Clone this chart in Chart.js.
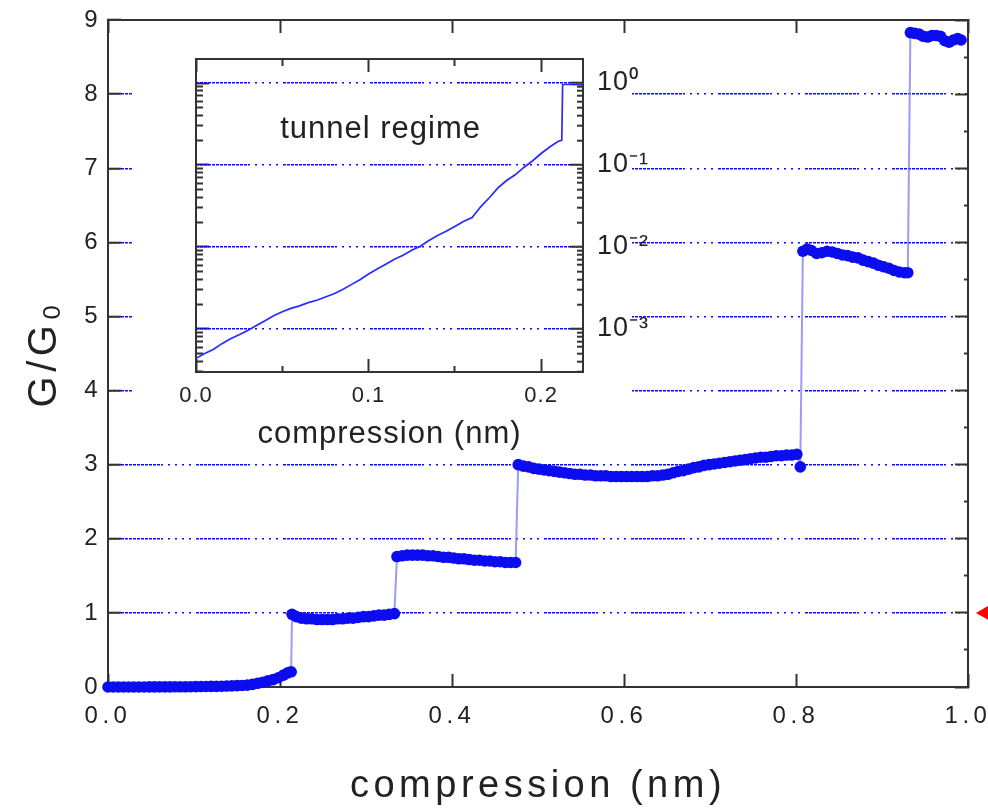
<!DOCTYPE html>
<html>
<head>
<meta charset="utf-8">
<script src="https://cdn.jsdelivr.net/npm/chart.js@4.4.0/dist/chart.umd.min.js"></script>
<style>
html,body{margin:0;padding:0;background:#fff;}
#wrap{position:relative;width:988px;height:809px;overflow:hidden;}
#main{position:absolute;left:0;top:0;}
#inset{position:absolute;left:132px;top:40px;}
</style>
</head>
<body>
<div id="wrap">
<canvas id="main" width="988" height="809"></canvas>
<canvas id="inset" width="530" height="415"></canvas>
</div>
<script>
// ---------------- DATA ----------------
// main panel: conductance plateaus (compression in nm, G in units of G0)
const plateau0X = [0.000,0.006,0.012,0.018,0.024,0.030,0.036,0.042,0.048,0.054,0.060,0.066,0.072,0.078,0.084,0.090,0.096,0.102,0.108,0.114,0.120,0.126,0.132,0.138,0.144,0.150,0.156,0.162,0.168,0.174,0.180,0.186,0.192,0.198,0.204,0.209,0.213];
const plateau0G = [0.000,0.001,0.001,0.001,0.001,0.001,0.001,0.001,0.002,0.002,0.002,0.002,0.002,0.003,0.003,0.003,0.004,0.005,0.006,0.007,0.008,0.009,0.011,0.013,0.015,0.018,0.021,0.025,0.036,0.050,0.065,0.082,0.100,0.125,0.160,0.190,0.205];
const plateau1X = [0.214,0.219,0.225,0.231,0.237,0.243,0.249,0.255,0.261,0.267,0.273,0.279,0.285,0.291,0.297,0.303,0.309,0.315,0.321,0.327,0.333];
const plateau1G = [0.98,0.95,0.93,0.92,0.92,0.91,0.91,0.91,0.91,0.92,0.92,0.93,0.93,0.94,0.95,0.95,0.96,0.97,0.97,0.98,0.99];
const plateau2X = [0.336,0.342,0.348,0.354,0.360,0.366,0.372,0.378,0.384,0.390,0.396,0.402,0.408,0.414,0.420,0.426,0.432,0.438,0.444,0.450,0.456,0.462,0.468,0.474];
const plateau2G = [1.76,1.77,1.78,1.78,1.78,1.78,1.77,1.77,1.76,1.75,1.75,1.74,1.73,1.73,1.72,1.71,1.71,1.70,1.70,1.69,1.69,1.68,1.68,1.68];
const plateau3X = [0.477,0.483,0.489,0.495,0.501,0.507,0.513,0.519,0.525,0.531,0.537,0.543,0.549,0.555,0.561,0.567,0.573,0.579,0.585,0.591,0.597,0.603,0.609,0.615,0.621,0.627,0.633,0.639,0.645,0.651,0.657,0.663,0.669,0.675,0.681,0.687,0.693,0.699,0.705,0.711,0.717,0.723,0.729,0.735,0.741,0.747,0.753,0.759,0.765,0.771,0.777,0.783,0.789,0.795,0.801,0.805];
const plateau3G = [3.00,2.98,2.97,2.95,2.94,2.93,2.92,2.91,2.90,2.89,2.88,2.87,2.87,2.86,2.86,2.85,2.85,2.85,2.84,2.84,2.84,2.84,2.84,2.84,2.84,2.84,2.85,2.85,2.86,2.87,2.89,2.91,2.92,2.94,2.96,2.97,2.99,3.00,3.01,3.02,3.03,3.04,3.05,3.06,3.07,3.08,3.09,3.10,3.10,3.11,3.12,3.12,3.13,3.13,3.14,2.97];
const plateau4X = [0.808,0.813,0.818,0.824,0.830,0.836,0.842,0.848,0.854,0.860,0.866,0.872,0.878,0.884,0.890,0.896,0.902,0.908,0.914,0.920,0.926,0.930];
const plateau4G = [5.88,5.91,5.89,5.85,5.86,5.88,5.87,5.85,5.83,5.82,5.80,5.79,5.76,5.74,5.72,5.69,5.67,5.65,5.62,5.60,5.59,5.59];
const plateau5X = [0.933,0.938,0.943,0.948,0.953,0.958,0.963,0.968,0.973,0.978,0.983,0.988,0.992];
const plateau5G = [8.83,8.82,8.81,8.78,8.77,8.79,8.79,8.78,8.72,8.70,8.73,8.75,8.73];

// red marker at G = 1 G0 (right of the frame)
const markerX = [1.0186];
const markerG = [1];

// tick labels
const mainXTickLabels = ['0.0','0.2','0.4','0.6','0.8','1.0'];
const mainYTickLabels = ['0','1','2','3','4','5','6','7','8','9'];

// inset: tunnel regime on log scale
const insetX = [0.000,0.005,0.010,0.015,0.020,0.025,0.030,0.035,0.040,0.045,0.050,0.055,0.060,0.065,0.070,0.075,0.080,0.085,0.090,0.095,0.100,0.105,0.110,0.115,0.120,0.125,0.130,0.135,0.140,0.145,0.150,0.155,0.160,0.165,0.170,0.175,0.180,0.185,0.190,0.195,0.200,0.205,0.210,0.212,0.2125,0.216,0.224];
const insetG = [4.37e-4,5.01e-4,5.62e-4,6.61e-4,7.59e-4,8.51e-4,9.55e-4,1.10e-3,1.26e-3,1.45e-3,1.62e-3,1.78e-3,1.91e-3,2.09e-3,2.24e-3,2.45e-3,2.69e-3,3.02e-3,3.47e-3,3.98e-3,4.68e-3,5.37e-3,6.17e-3,7.08e-3,7.94e-3,9.12e-3,1.02e-2,1.20e-2,1.38e-2,1.55e-2,1.78e-2,2.04e-2,2.29e-2,3.09e-2,3.98e-2,5.25e-2,6.46e-2,7.59e-2,9.33e-2,0.112,0.138,0.166,0.195,0.200,0.96,0.96,0.95];
const insetXTickLabels = ['0.0','','0.1','','0.2'];
const insetDecades = [1e-3,1e-2,1e-1,1];
const insetDecadeLabels = ['10\u207B\u00B3','10\u207B\u00B2','10\u207B\u00B9','10\u2070'];
const insetYMin = 2.98e-4, insetYMax = 1.965;
const tunnelLabel = {text:'tunnel regime', x:0.107, y:0.274};

// ---------------- STYLE ----------------
const FONT = '"Liberation Sans", Arial, Helvetica, sans-serif';
const INK = '#222222';
const AXIS = '#333333';
const GRID_BLUE = '#0a0aff';
const GRID_DASH = [3,1,3,1,3,1,3,1,3,1,3,1,3,1,3,1,3,1,3,1,3,1,3,1,3,1,2,5,2,5,2,5,2,5,2,5];
const NONE = 'rgba(0,0,0,0)';

function toPoints(xs, ys){ return xs.map((x,i)=>({x:x, y:ys[i]})); }
const mainPoints = [].concat(
  toPoints(plateau0X, plateau0G), toPoints(plateau1X, plateau1G), toPoints(plateau2X, plateau2G),
  toPoints(plateau3X, plateau3G), toPoints(plateau4X, plateau4G), toPoints(plateau5X, plateau5G));
const markerPoints = toPoints(markerX, markerG);
const insetPoints = toPoints(insetX, insetG);

function spacing(ls){
  return {id:'spacing', beforeLayout(c){ c.ctx.letterSpacing = ls; }, beforeDraw(c){ c.ctx.letterSpacing = ls; }};
}
function background(w){
  return {id:'bg', beforeDraw(c){ const ctx=c.ctx; ctx.save(); ctx.fillStyle='#ffffff'; ctx.fillRect(0,0,w==null?c.width:w,c.height); ctx.restore(); }};
}
// fixed axis box sizes, no label overhang padding
function fixH(h){ return s => { s.height = h; s.paddingLeft = s.paddingRight = s.paddingTop = s.paddingBottom = 0; }; }
function fixW(w){ return s => { s.width = w; s.paddingLeft = s.paddingRight = s.paddingTop = s.paddingBottom = 0; }; }
const isInt = v => Math.abs(v - Math.round(v)) < 1e-6;

// marker outside the frame: drawn through the chart's own scales
const outsideMarker = {id:'outsideMarker', afterDatasetsDraw(c){
  const ctx = c.ctx, xs = c.scales.x, ys = c.scales.y;
  const style = {pointStyle:'triangle', rotation:-90, radius:8, borderWidth:0};
  ctx.save();
  ctx.fillStyle = '#ff0000'; ctx.strokeStyle = '#ff0000'; ctx.lineWidth = 0.01;
  markerPoints.forEach(p => Chart.helpers.drawPoint(ctx, style, xs.getPixelForValue(p.x), ys.getPixelForValue(p.y)));
  ctx.restore();
}};

// ---------------- MAIN CHART ----------------
new Chart(document.getElementById('main'), {
  type:'line',
  data:{datasets:[
    {label:'G/G0', data:mainPoints, xAxisID:'x', yAxisID:'y', borderColor:'rgba(120,120,255,0.75)', borderWidth:2,
     pointRadius:5.8, pointBackgroundColor:'rgb(12,12,240)', pointBorderColor:'rgb(12,12,240)', pointBorderWidth:0,
     pointHoverRadius:0, tension:0, clip:false}
  ]},
  options:{
    responsive:false, animation:false, devicePixelRatio:1, events:[],
    layout:{padding:0, autoPadding:false},
    plugins:{legend:{display:false}, tooltip:{enabled:false}},
    scales:{
      x:{type:'linear', position:'bottom', min:0, max:1, afterFit:fixH(122),
        ticks:{stepSize:0.2, autoSkip:false, maxRotation:0, padding:28, color:INK, font:{family:FONT,size:24},
               callback:(v,i)=>mainXTickLabels[i]},
        grid:{drawOnChartArea:false, tickLength:-13, tickWidth:2, tickColor:AXIS},
        border:{color:AXIS, width:2},
        title:{display:true, text:'compression (nm)', color:INK, font:{family:FONT,size:38}, padding:{top:0,bottom:0}}},
      xt:{type:'linear', position:'top', min:0, max:1, afterFit:fixH(20),
        ticks:{display:false, stepSize:0.2, autoSkip:false},
        grid:{drawOnChartArea:false, tickLength:-13, tickWidth:2, tickColor:AXIS},
        border:{color:AXIS, width:2}},
      y:{type:'linear', position:'left', min:0, max:9, afterFit:fixW(108),
        ticks:{stepSize:1, autoSkip:false, padding:19, color:INK, font:{family:FONT,size:24},
               callback:(v,i)=>mainYTickLabels[i]},
        grid:{drawOnChartArea:true, color:c=>(c.tick && c.tick.value>0 && c.tick.value<9)?GRID_BLUE:NONE, lineWidth:1.4,
              tickLength:-13, tickWidth:2, tickColor:AXIS},
        border:{color:AXIS, width:2, dash:GRID_DASH},
        title:{display:true, text:'G/G\u2080', color:INK, font:{family:FONT,size:40}, padding:{top:21,bottom:0}}},
      yr:{type:'linear', position:'right', min:0, max:9, afterFit:fixW(20),
        ticks:{display:false, stepSize:0.5, autoSkip:false},
        grid:{drawOnChartArea:false, tickLength:-13, tickWidth:2, tickColor:AXIS,
              tickBorderDash:c=>(c.tick && isInt(c.tick.value))?[]:[5,100]},
        border:{color:AXIS, width:2}}
    }
  },
  plugins:[background(null), spacing('4.5px'), outsideMarker]
});

// ---------------- INSET CHART ----------------
function insetTicks(scale){
  const out = [];
  for (let d=-4; d<=0; d++){
    for (let m=1; m<=9; m++){
      const v = m*Math.pow(10,d);
      if (v>=insetYMin && v<=insetYMax) out.push({value:v, major:m===1});
    }
  }
  scale.ticks = out;
}
const tunnelText = {id:'tunnelText', afterDatasetsDraw(c){
  const ctx=c.ctx, xs=c.scales.x, ys=c.scales.yr;
  ctx.save();
  ctx.font = '31px '+FONT; ctx.fillStyle = INK; ctx.textAlign='center'; ctx.textBaseline='middle';
  ctx.fillText(tunnelLabel.text, xs.getPixelForValue(tunnelLabel.x), ys.getPixelForValue(tunnelLabel.y));
  ctx.restore();
}};
const isTenth = v => Math.abs(v*10 - Math.round(v*10)) < 1e-6;

new Chart(document.getElementById('inset'), {
  type:'line',
  data:{datasets:[
    {label:'tunnel', data:insetPoints, xAxisID:'x', yAxisID:'yr', borderColor:'#2a2aff', borderWidth:1.7,
     pointRadius:0, tension:0}
  ]},
  options:{
    responsive:false, animation:false, devicePixelRatio:1, events:[],
    layout:{padding:0, autoPadding:false},
    plugins:{legend:{display:false}, tooltip:{enabled:false}},
    scales:{
      x:{type:'linear', position:'bottom', min:0, max:0.2243, afterFit:fixH(83),
        ticks:{stepSize:0.05, includeBounds:false, autoSkip:false, maxRotation:0, padding:24, color:INK,
               font:{family:FONT,size:22}, callback:(v,i)=>insetXTickLabels[i]},
        grid:{drawOnChartArea:false, tickLength:-13, tickWidth:2, tickColor:AXIS,
              tickBorderDash:c=>(c.tick && isTenth(c.tick.value))?[]:[7,100]},
        border:{color:AXIS, width:2},
        title:{display:true, text:'compression (nm)', color:INK, font:{family:FONT,size:31}, padding:{top:0,bottom:2}}},
      xt:{type:'linear', position:'top', min:0, max:0.2243, afterFit:fixH(19),
        ticks:{display:false, stepSize:0.05, includeBounds:false, autoSkip:false},
        grid:{drawOnChartArea:false, tickLength:-13, tickWidth:2, tickColor:AXIS,
              tickBorderDash:c=>(c.tick && isTenth(c.tick.value))?[]:[0,6,7,100]},
        border:{color:AXIS, width:2}},
      yl:{type:'logarithmic', position:'left', min:insetYMin, max:insetYMax, afterFit:fixW(64),
        afterBuildTicks:insetTicks,
        ticks:{display:false, autoSkip:false},
        grid:{drawOnChartArea:false, tickLength:-13, tickWidth:2, tickColor:AXIS,
              tickBorderDash:c=>(c.tick && c.tick.major)?[]:[0,6,7,100]},
        border:{color:AXIS, width:2}},
      yr:{type:'logarithmic', position:'right', min:insetYMin, max:insetYMax, afterFit:fixW(79),
        afterBuildTicks:insetTicks,
        ticks:{autoSkip:false, padding:27, color:INK, font:{family:FONT,size:27},
               callback:(v)=>{ const k = insetDecades.findIndex(d=>Math.abs(Math.log10(v)-Math.log10(d))<1e-6); return k<0?'':insetDecadeLabels[k]; }},
        grid:{drawOnChartArea:true, color:c=>(c.tick && c.tick.major)?GRID_BLUE:NONE, lineWidth:1.4,
              tickLength:-13, tickWidth:2, tickColor:AXIS,
              tickBorderDash:c=>(c.tick && c.tick.major)?[]:[7,100]},
        border:{color:AXIS, width:2, dash:GRID_DASH}}
    }
  },
  plugins:[background(500), spacing('1px'), tunnelText]
});
</script>
</body>
</html>
